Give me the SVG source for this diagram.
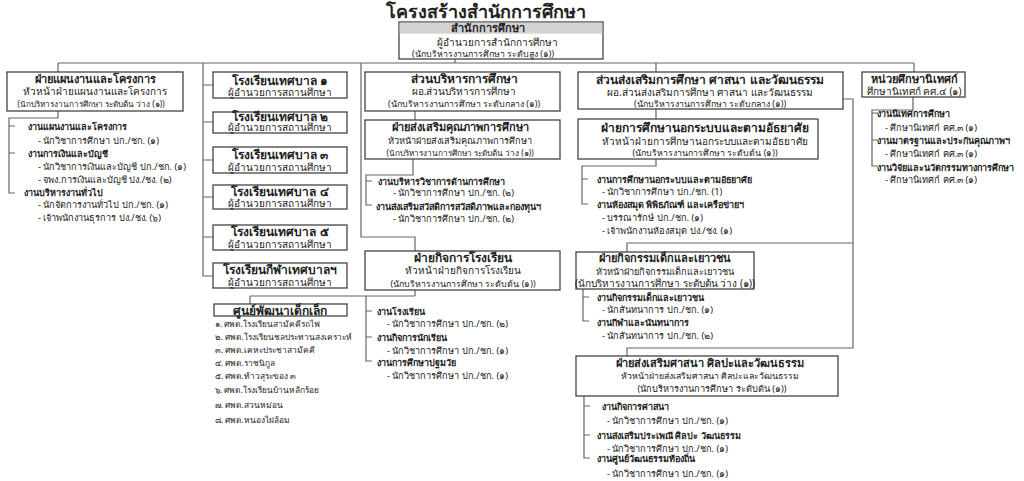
<svg xmlns="http://www.w3.org/2000/svg" width="1024" height="481" viewBox="0 0 1024 481">
<style>
text{font-family:"Noto Sans","DejaVu Sans",sans-serif;fill:#222}
.box{fill:#fff;stroke:#444;stroke-width:1.3}
.ln{fill:none;stroke:#666;stroke-width:1.2}
.ttl{font-size:18px;font-weight:bold;text-anchor:middle}
.h{font-size:12px;font-weight:bold;text-anchor:middle}
.h11{font-size:11px;font-weight:bold;text-anchor:middle}
.m{font-size:10px;text-anchor:middle}
.m9{font-size:9.2px;text-anchor:middle}
.s{font-size:8.8px;text-anchor:middle}
.s8{font-size:8.2px;text-anchor:middle}
.b{font-size:9px;font-weight:bold}
.t{font-size:9.2px}
.c{font-size:8.4px}
</style>
<rect width="1024" height="481" fill="#fff"/>
<text class="ttl" x="486" y="18">โครงสร้างสำนักการศึกษา</text>

<g id="connectors" class="ln">
<path d="M455,59V63M58,63H914M58,63V72"/>
<path d="M203,63V276H213M203,85H213M203,122H213M203,160H213M203,197H213M203,237H213"/>
<path d="M361,63V237H415V251M415,111V120"/>
<path d="M413,159V175H366V205H372M366,181H372"/>
<path d="M415,290V296M250,296H415M250,296V304M366,296V361H372M366,311H372M366,337H372"/>
<path d="M656,63V72M656,109V119M656,159V166H582V204H588M582,179H588"/>
<path d="M843,99H853V348H627V356M853,243H627V252"/>
<path d="M583,289V321H589M583,297H589"/>
<path d="M584,396V458H590M584,406H590M584,435H590"/>
<path d="M914,63V72M913,97V110H872V166H878M872,113H878M872,140H878"/>
<path d="M58,111V118H9V193H15M9,126H15M9,153H15"/>
</g>

<g id="office">
<rect class="box" x="399" y="22" width="204" height="37"/>
<rect x="399.7" y="22.7" width="202.6" height="11" fill="#d3d3d3"/>
<text class="h11" x="488" y="32">สำนักการศึกษา</text>
<text class="m" x="497" y="46">ผู้อำนวยการสำนักการศึกษา</text>
<text class="s" x="483" y="57">(นักบริหารงานการศึกษา ระดับสูง (๑))</text>
</g>

<g id="plan">
<rect class="box" x="7" y="72" width="176" height="39"/>
<text class="h11" x="95" y="83">ฝ่ายแผนงานและโครงการ</text>
<text class="m" x="95" y="95">หัวหน้าฝ่ายแผนงานและโครงการ</text>
<text class="s8" x="91" y="107">(นักบริหารงานการศึกษา ระดับต้น ว่าง (๑))</text>
<text class="b" x="28" y="130">งานแผนงานและโครงการ</text>
<text class="t" x="38" y="144">- นักวิชาการศึกษา ปก./ชก. (๑)</text>
<text class="b" x="28" y="157">งานการเงินและบัญชี</text>
<text class="t" x="38" y="170">- นักวิชาการเงินและบัญชี ปก./ชก. (๑)</text>
<text class="t" x="38" y="183">- จพง.การเงินและบัญชี ปง./ชง. (๒)</text>
<text class="b" x="24" y="196">งานบริหารงานทั่วไป</text>
<text class="t" x="38" y="208">- นักจัดการงานทั่วไป ปก./ชก. (๑)</text>
<text class="t" x="38" y="221">- เจ้าพนักงานธุรการ ปง./ชง. (๖)</text>
</g>

<g id="school1">
<rect class="box" x="213" y="72" width="134" height="26"/>
<text class="h" x="280" y="84.5">โรงเรียนเทศบาล ๑</text>
<text class="m" x="280" y="96">ผู้อำนวยการสถานศึกษา</text>
</g>
<g id="school2">
<rect class="box" x="213" y="112" width="134" height="21"/>
<text class="h" x="280" y="120.5">โรงเรียนเทศบาล ๒</text>
<text class="m" x="280" y="131">ผู้อำนวยการสถานศึกษา</text>
</g>
<g id="school3">
<rect class="box" x="213" y="147" width="134" height="26"/>
<text class="h" x="280" y="159">โรงเรียนเทศบาล ๓</text>
<text class="m" x="280" y="170.5">ผู้อำนวยการสถานศึกษา</text>
</g>
<g id="school4">
<rect class="box" x="213" y="185" width="134" height="24"/>
<text class="h" x="280" y="195.5">โรงเรียนเทศบาล ๔</text>
<text class="m" x="280" y="207">ผู้อำนวยการสถานศึกษา</text>
</g>
<g id="school5">
<rect class="box" x="213" y="225" width="134" height="25"/>
<text class="h" x="280" y="235.5">โรงเรียนเทศบาล ๕</text>
<text class="m" x="280" y="247.5">ผู้อำนวยการสถานศึกษา</text>
</g>
<g id="school6">
<rect class="box" x="213" y="263" width="134" height="25"/>
<text class="h" x="280" y="273.5">โรงเรียนกีฬาเทศบาลฯ</text>
<text class="m" x="280" y="285.5">ผู้อำนวยการสถานศึกษา</text>
</g>

<g id="childcenter">
<rect class="box" x="214" y="304" width="133" height="12"/>
<text class="h" x="280" y="314.5">ศูนย์พัฒนาเด็กเล็ก</text>
<text class="c" x="215" y="326.5">๑. ศพด.โรงเรียนสามัคคีรถไฟ</text>
<text class="c" x="215" y="339.5">๒. ศพด.โรงเรียนชลประทานสงเคราะห์</text>
<text class="c" x="215" y="352.5">๓. ศพด.เคหะประชาสามัคคี</text>
<text class="c" x="215" y="365.5">๔. ศพด.ราชนิกูล</text>
<text class="c" x="215" y="378.5">๕. ศพด.ท้าวสุระของ ๓</text>
<text class="c" x="215" y="392.5">๖. ศพด.โรงเรียนบ้านหลักร้อย</text>
<text class="c" x="215" y="407.5">๗. ศพด.สวนหม่อน</text>
<text class="c" x="215" y="422.5">๘. ศพด.หนองไผ่ล้อม</text>
</g>

<g id="admin">
<rect class="box" x="365" y="72" width="195" height="39"/>
<text class="h" x="464" y="83">ส่วนบริหารการศึกษา</text>
<text class="m" x="464" y="95">ผอ.ส่วนบริหารการศึกษา</text>
<text class="s" x="464" y="106.5">(นักบริหารงานการศึกษา ระดับกลาง (๑))</text>
</g>

<g id="quality">
<rect class="box" x="365" y="120" width="195" height="39"/>
<text class="h11" x="460" y="131">ฝ่ายส่งเสริมคุณภาพการศึกษา</text>
<text class="m9" x="460" y="144">หัวหน้าฝ่ายส่งเสริมคุณภาพการศึกษา</text>
<text class="s8" x="460" y="156">(นักบริหารงานการศึกษา ระดับต้น ว่าง (๑))</text>
<text class="b" x="378" y="184.5">งานบริหารวิชาการด้านการศึกษา</text>
<text class="t" x="393" y="195.5">- นักวิชาการศึกษา ปก./ชก. (๒)</text>
<text class="b" x="376" y="209.5">งานส่งเสริมสวัสดิการสวัสดิภาพและกองทุนฯ</text>
<text class="t" x="393" y="221.5">- นักวิชาการศึกษา ปก./ชก. (๒)</text>
</g>

<g id="schoolaffairs">
<rect class="box" x="365" y="251" width="195" height="39"/>
<text class="h" x="463" y="261.5">ฝ่ายกิจการโรงเรียน</text>
<text class="m" x="463" y="274">หัวหน้าฝ่ายกิจการโรงเรียน</text>
<text class="s" x="463" y="287">(นักบริหารงานการศึกษา ระดับต้น (๑))</text>
<text class="b" x="377" y="314.5">งานโรงเรียน</text>
<text class="t" x="387" y="326.5">- นักวิชาการศึกษา ปก./ชก. (๒)</text>
<text class="b" x="377" y="340.5">งานกิจการนักเรียน</text>
<text class="t" x="387" y="353.5">- นักวิชาการศึกษา ปก./ชก. (๑)</text>
<text class="b" x="377" y="365.5">งานการศึกษาปฐมวัย</text>
<text class="t" x="387" y="378.5">- นักวิชาการศึกษา ปก./ชก. (๑)</text>
</g>

<g id="promotion">
<rect class="box" x="578" y="72" width="265" height="37"/>
<text class="h" x="710" y="83.5">ส่วนส่งเสริมการศึกษา ศาสนา และวัฒนธรรม</text>
<text class="m" x="710" y="96">ผอ.ส่วนส่งเสริมการศึกษา ศาสนา และวัฒนธรรม</text>
<text class="s" x="710" y="106.5">(นักบริหารงานการศึกษา ระดับกลาง (๑))</text>
</g>

<g id="nonformal">
<rect class="box" x="578" y="119" width="240" height="40"/>
<text class="h" x="705" y="132">ฝ่ายการศึกษานอกระบบและตามอัธยาศัย</text>
<text class="m" x="705" y="145">หัวหน้าฝ่ายการศึกษานอกระบบและตามอัธยาศัย</text>
<text class="s" x="705" y="156">(นักบริหารงานการศึกษา ระดับต้น (๑))</text>
<text class="b" x="597" y="182.5">งานการศึกษานอกระบบและตามอัธยาศัย</text>
<text class="t" x="602" y="195">- นักวิชาการศึกษา ปก./ชก. (1)</text>
<text class="b" x="597" y="207.5">งานห้องสมุด พิพิธภัณฑ์ และเครือข่ายฯ</text>
<text class="t" x="602" y="220.5">- บรรณารักษ์ ปก./ชก. (๑)</text>
<text class="t" x="602" y="233.5">- เจ้าพนักงานห้องสมุด ปง./ชง. (๑)</text>
</g>

<g id="youth">
<rect class="box" x="576" y="252" width="178" height="37"/>
<text class="h11" x="665" y="262">ฝ่ายกิจกรรมเด็กและเยาวชน</text>
<text class="m9" x="665" y="275">หัวหน้าฝ่ายกิจกรรมเด็กและเยาวชน</text>
<text class="m" x="665" y="287">(นักบริหารงานการศึกษา ระดับต้น ว่าง (๑))</text>
<text class="b" x="597" y="300.5">งานกิจกรรมเด็กและเยาวชน</text>
<text class="t" x="602" y="312.5">- นักสันทนาการ ปก./ชก. (๑)</text>
<text class="b" x="597" y="325.5">งานกีฬาและนันทนาการ</text>
<text class="t" x="602" y="338.5">- นักสันทนาการ ปก./ชก. (๒)</text>
</g>

<g id="religion">
<rect class="box" x="576" y="356" width="262" height="40"/>
<text class="h11" x="710" y="367">ฝ่ายส่งเสริมศาสนา ศิลปะและวัฒนธรรม</text>
<text class="s" x="710" y="378.5">หัวหน้าฝ่ายส่งเสริมศาสนา ศิลปะและวัฒนธรรม</text>
<text class="m9" x="712" y="391.5">(นักบริหารงานการศึกษา ระดับต้น (๑))</text>
<text class="b" x="602" y="409.5">งานกิจการศาสนา</text>
<text class="t" x="607" y="423.5">- นักวิชาการศึกษา ปก./ชก. (๑)</text>
<text class="b" x="597" y="438.5">งานส่งเสริมประเพณี ศิลปะ วัฒนธรรม</text>
<text class="t" x="607" y="451.5">- นักวิชาการศึกษา ปก./ชก. (๑)</text>
<text class="b" x="597" y="461.5">งานศูนย์วัฒนธรรมท้องถิ่น</text>
<text class="t" x="607" y="476.5">- นักวิชาการศึกษา ปก./ชก. (๑)</text>
</g>

<g id="supervision">
<rect class="box" x="862" y="72" width="103" height="25"/>
<text class="h11" x="914" y="82.5">หน่วยศึกษานิเทศก์</text>
<text class="m" x="914" y="94.5">ศึกษานิเทศก์ คศ.๔ (๑)</text>
<text class="b" x="877" y="116.5">งานนิเทศการศึกษา</text>
<text class="t" x="885" y="131">- ศึกษานิเทศก์ คศ.๓ (๑)</text>
<text class="b" x="877" y="143.5">งานมาตรฐานและประกันคุณภาพฯ</text>
<text class="t" x="885" y="156.5">- ศึกษานิเทศก์ คศ.๓ (๑)</text>
<text class="b" x="877" y="170.5">งานวิจัยและนวัตกรรมทางการศึกษา</text>
<text class="t" x="885" y="182.5">- ศึกษานิเทศก์ คศ.๓ (๑)</text>
</g>
</svg>
